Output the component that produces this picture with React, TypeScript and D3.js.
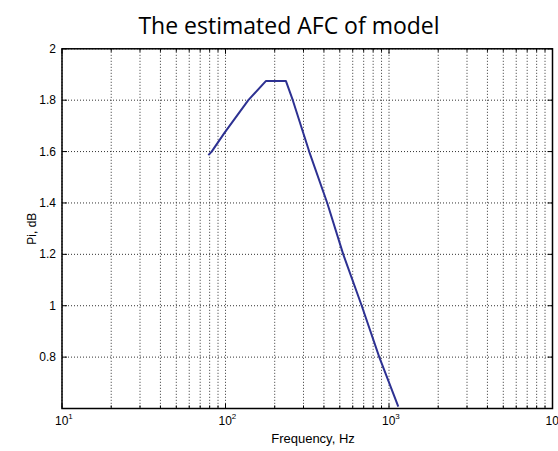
import React from "react";
import * as d3 from "d3";

const title = "The estimated AFC of model";
const xLabel = "Frequency, Hz";
const yLabel = "Pi, dB";
const freqs = [78.5, 82.3, 98.3, 137.9, 177, 234, 258, 325, 419, 525, 681, 872, 1140];
const values = [1.586, 1.6, 1.672, 1.8, 1.875, 1.875, 1.8, 1.6, 1.4, 1.2, 1.0, 0.8, 0.607];
const yTicks = [0.8, 1, 1.2, 1.4, 1.6, 1.8, 2];
const yTickLabels = ["0.8", "1", "1.2", "1.4", "1.6", "1.8", "2"];
const xDecades = [1, 2, 3, 4];

const W = 558, H = 451;
const L = 62, R = 552.5, T = 48.8, B = 408.5;

export default function App() {
  const x = d3.scaleLog().domain([10, 10000]).range([L, R]);
  const y = d3.scaleLinear().domain([0.6, 2]).range([B, T]);
  const minor: number[] = [];
  for (let d = 1; d < 4; d++) {
    for (let k = 1; k <= 9; k++) minor.push(k * Math.pow(10, d));
  }
  minor.push(10000);
  const line = d3
    .line<number>()
    .x((_, i) => x(freqs[i]))
    .y((v) => y(v));
  const font = "'Liberation Sans', Arial, sans-serif";
  return (
    <svg
      width={W}
      height={H}
      style={{ position: "absolute", left: 0, top: 0, background: "#fff" }}
    >
      <rect x={0} y={0} width={W} height={H} fill="#fff" />
      <text
        x={289}
        y={34}
        textAnchor="middle"
        fontFamily="'Open Sans', sans-serif"
        fontSize={23}
        fill="#000"
      >
        {title}
      </text>
      {/* grid */}
      {minor.map((f, i) => (
        <line
          key={"gx" + i}
          x1={x(f)}
          x2={x(f)}
          y1={T}
          y2={B}
          stroke="#333"
          strokeWidth={1}
          strokeDasharray="1,2"
        />
      ))}
      {yTicks.map((v, i) => (
        <line
          key={"gy" + i}
          x1={L}
          x2={R}
          y1={y(v)}
          y2={y(v)}
          stroke="#333"
          strokeWidth={1}
          strokeDasharray="1,2"
        />
      ))}
      {/* ticks */}
      {minor.map((f, i) => {
        const major = Math.abs(Math.log10(f) - Math.round(Math.log10(f))) < 1e-9;
        const len = major ? 5 : 3;
        return (
          <g key={"tx" + i}>
            <line x1={x(f)} x2={x(f)} y1={B} y2={B - len} stroke="#000" />
            <line x1={x(f)} x2={x(f)} y1={T} y2={T + len} stroke="#000" />
          </g>
        );
      })}
      {yTicks.map((v, i) => (
        <g key={"ty" + i}>
          <line x1={L} x2={L + 5} y1={y(v)} y2={y(v)} stroke="#000" />
          <line x1={R} x2={R - 5} y1={y(v)} y2={y(v)} stroke="#000" />
        </g>
      ))}
      <rect
        x={L}
        y={T}
        width={R - L}
        height={B - T}
        fill="none"
        stroke="#000"
        strokeWidth={1.5}
      />
      <path
        d={line(values) || ""}
        fill="none"
        stroke="#2d3192"
        strokeWidth={2}
        strokeLinejoin="round"
      />
      {/* y labels */}
      {yTicks.map((v, i) => (
        <text
          key={"yl" + i}
          x={L - 6}
          y={y(v) + 4}
          textAnchor="end"
          fontFamily={font}
          fontSize={12}
          fill="#000"
        >
          {yTickLabels[i]}
        </text>
      ))}
      {/* x labels */}
      {xDecades.map((d, i) => (
        <text
          key={"xl" + i}
          x={x(Math.pow(10, d)) - 7}
          y={425}
          fontFamily={font}
          fontSize={12}
          fill="#000"
        >
          10
          <tspan dy={-6} fontSize={8}>
            {d}
          </tspan>
        </text>
      ))}
      <text
        x={313}
        y={443}
        textAnchor="middle"
        fontFamily={font}
        fontSize={13}
        fill="#000"
      >
        {xLabel}
      </text>
      <text
        transform={`translate(36, ${(T + B) / 2}) rotate(-90)`}
        textAnchor="middle"
        fontFamily={font}
        fontSize={12}
        fill="#000"
      >
        {yLabel}
      </text>
    </svg>
  );
}
